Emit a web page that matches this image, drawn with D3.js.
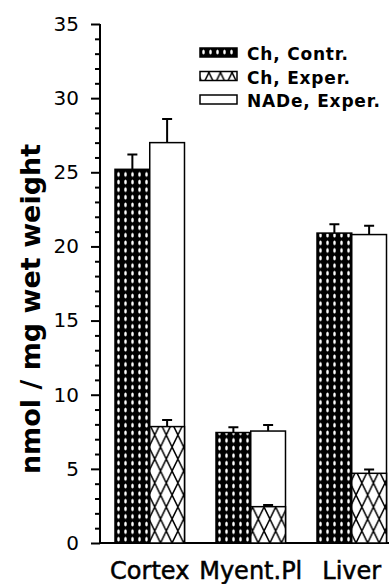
<!DOCTYPE html>
<html>
<head>
<meta charset="utf-8">
<script src="https://cdn.jsdelivr.net/npm/d3@7"></script>
<style>
    html, body { margin: 0; padding: 0; background: #fff; }
    svg { display: block; }
</style>
</head>
<body>
<div id="chart"></div>
<script>
// data (nmol / mg wet weight)
let categories = ["Cortex", "Myent.Pl", "Liver"];
let chContr = [25.2, 7.45, 20.9];
let chContrErr = [1.0, 0.35, 0.6];
let chExper = [7.85, 2.45, 4.7];
let chExperErr = [0.45, 0.12, 0.25];
let nadeExper = [27.0, 7.55, 20.8];
let nadeExperErr = [1.6, 0.4, 0.6];
let legendLabels = ["Ch, Contr.", "Ch, Exper.", "NADe, Exper."];
let majorTicks = [0, 5, 10, 15, 20, 25, 30, 35];

let svgWidth = 392;
let svgHeight = 584;

let svg = d3.select("#chart")
    .append("svg")
    .attr("width", svgWidth)
    .attr("height", svgHeight);

svg.append("rect")
    .attr("width", svgWidth)
    .attr("height", svgHeight)
    .attr("fill", "#fff");

// scales
let y = d3.scaleLinear().domain([0, 35]).range([543, 24]);
let x = d3.scaleBand()
    .domain(categories)
    .range([115, 386.5])
    .paddingInner(0.312)
    .paddingOuter(0);
let xInner = d3.scaleBand()
    .domain(["contr", "exper"])
    .range([0, x.bandwidth()]);

let defs = svg.append("defs");

// control: black with white ovals
let pc = defs.append("pattern")
    .attr("id", "patContr")
    .attr("patternUnits", "userSpaceOnUse")
    .attr("x", 0)
    .attr("y", y(0))
    .attr("width", 7)
    .attr("height", 7.6);
pc.append("rect").attr("width", 7).attr("height", 7.6).attr("fill", "#000");
pc.append("ellipse")
    .attr("cx", 3.5).attr("cy", 3.8)
    .attr("rx", 1.3).attr("ry", 2.4)
    .attr("fill", "#fff");

// experimental Ch: diamond lattice, one pattern per bar so it lines up with the bar edge
let cellW = xInner.bandwidth() / 3;
let cellH = 24;
function latticePattern(id, x0, y0) {
    let p = defs.append("pattern")
        .attr("id", id)
        .attr("patternUnits", "userSpaceOnUse")
        .attr("x", x0)
        .attr("y", y0)
        .attr("width", cellW)
        .attr("height", cellH);
    p.append("rect").attr("width", cellW).attr("height", cellH).attr("fill", "#fff");
    p.append("path")
        .attr("d", `M0,0L${cellW},${cellH}M${cellW},0L0,${cellH}`)
        .attr("stroke", "#000")
        .attr("stroke-width", 1.5)
        .attr("fill", "none");
}
categories.forEach((c, i) => {
    latticePattern("patExp" + i, x(c) + xInner("exper"), y(0));
});

// y axis, major + minor ticks
let yAxis = d3.axisLeft(y).tickValues(majorTicks).tickSize(9).tickPadding(12);
let minorTicks = d3.range(0, 36).filter((d) => d % 5 !== 0);
let yMinor = d3.axisLeft(y).tickValues(minorTicks).tickSize(5).tickFormat("");

let gy = svg.append("g")
    .attr("transform", "translate(100,0)")
    .call(yAxis);
svg.append("g")
    .attr("transform", "translate(100,0)")
    .call(yMinor);
svg.selectAll(".domain").remove();
svg.selectAll(".tick line").attr("stroke", "#000").attr("stroke-width", 2);
gy.selectAll(".tick text")
    .attr("fill", "#000")
    .style("font-family", "DejaVu Sans")
    .style("font-size", "20px");

// axis lines
svg.append("line")
    .attr("x1", 100).attr("x2", 100)
    .attr("y1", y(0)).attr("y2", y(35))
    .attr("stroke", "#000").attr("stroke-width", 2);
svg.append("line")
    .attr("x1", 100).attr("x2", 389)
    .attr("y1", y(0)).attr("y2", y(0))
    .attr("stroke", "#000").attr("stroke-width", 2);

// bars
let groups = svg.selectAll("g.grp")
    .data(categories)
    .enter()
    .append("g")
    .attr("class", "grp")
    .attr("transform", (d) => `translate(${x(d)},0)`);

groups.append("rect")
    .attr("x", xInner("contr"))
    .attr("y", (d, i) => y(chContr[i]))
    .attr("width", xInner.bandwidth())
    .attr("height", (d, i) => y(0) - y(chContr[i]))
    .attr("fill", "url(#patContr)")
    .attr("stroke", "#000")
    .attr("stroke-width", 1.5);

groups.append("rect")
    .attr("x", xInner("exper"))
    .attr("y", (d, i) => y(nadeExper[i]))
    .attr("width", xInner.bandwidth())
    .attr("height", (d, i) => y(0) - y(nadeExper[i]))
    .attr("fill", "#fff")
    .attr("stroke", "#000")
    .attr("stroke-width", 1.5);

groups.append("rect")
    .attr("x", xInner("exper"))
    .attr("y", (d, i) => y(chExper[i]))
    .attr("width", xInner.bandwidth())
    .attr("height", (d, i) => y(0) - y(chExper[i]))
    .attr("fill", (d, i) => `url(#patExp${i})`)
    .attr("stroke", "#000")
    .attr("stroke-width", 1.5);

// error bars (upper only, with T cap)
function errorBars(vals, errs, key) {
    let cx = xInner(key) + xInner.bandwidth() / 2;
    groups.append("path")
        .attr("d", (d, i) => {
            let y0 = y(vals[i]);
            let y1 = y(vals[i] + errs[i]);
            return `M${cx},${y0}V${y1}M${cx - 5},${y1}H${cx + 5}`;
        })
        .attr("stroke", "#000")
        .attr("stroke-width", 2)
        .attr("fill", "none");
}
errorBars(chContr, chContrErr, "contr");
errorBars(nadeExper, nadeExperErr, "exper");
errorBars(chExper, chExperErr, "exper");

// category labels
svg.selectAll("text.cat")
    .data(categories)
    .enter()
    .append("text")
    .attr("class", "cat")
    .attr("x", (d) => x(d) + x.bandwidth() / 2)
    .attr("y", 579)
    .attr("text-anchor", "middle")
    .style("font-family", "DejaVu Sans")
    .style("font-size", "24px")
    .style("stroke", "#000")
    .style("stroke-width", 0.5)
    .text((d) => d);

// y axis title
svg.append("text")
    .attr("transform", "translate(40,309) rotate(-90)")
    .attr("text-anchor", "middle")
    .style("font-family", "DejaVu Sans")
    .style("font-size", "27px")
    .style("font-weight", "bold")
    .text("nmol / mg wet weight");

// legend
let legendFills = ["url(#patContr)", "url(#patLeg)", "#fff"];
latticePattern("patLeg", 200, 73);
let legend = svg.selectAll("g.leg")
    .data(legendLabels)
    .enter()
    .append("g")
    .attr("class", "leg")
    .attr("transform", (d, i) => `translate(200,${60 + i * 23.5})`);
legend.append("rect")
    .attr("x", 0)
    .attr("y", -12)
    .attr("width", 37)
    .attr("height", 9)
    .attr("fill", (d, i) => legendFills[i])
    .attr("stroke", "#000")
    .attr("stroke-width", 1.5);
legend.append("text")
    .attr("x", 47)
    .attr("y", 0)
    .style("font-family", "DejaVu Sans")
    .style("font-size", "17px")
    .style("font-weight", "bold")
    .style("letter-spacing", "0.8px")
    .text((d) => d);
</script>
</body>
</html>
